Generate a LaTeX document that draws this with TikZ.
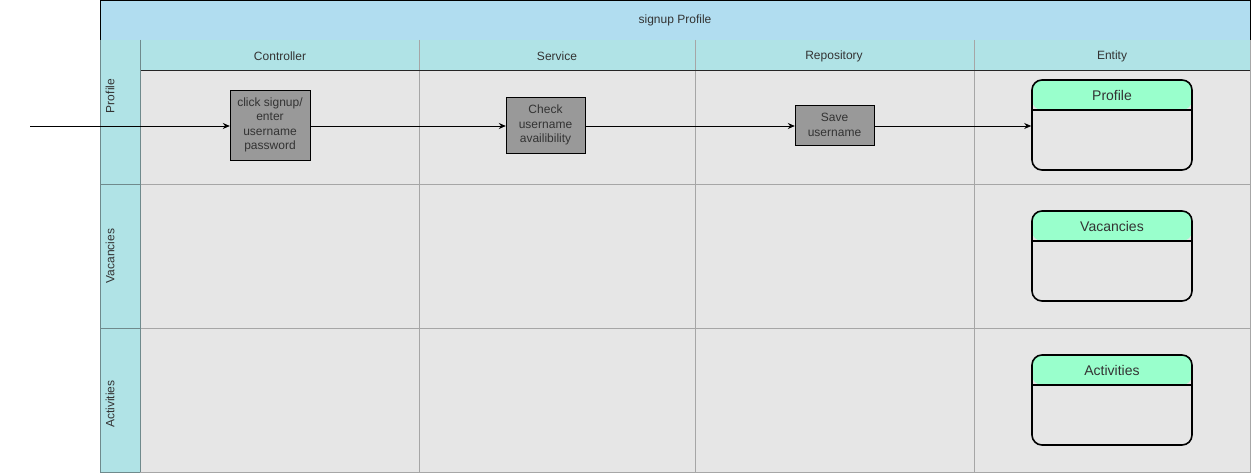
\documentclass[tikz,border=0pt]{standalone}
\usepackage{fontspec}
\setmainfont{Liberation Sans}
\usetikzlibrary{arrows.meta}
\definecolor{titleblue}{HTML}{B1DDF0}
\definecolor{lanecyan}{HTML}{B0E3E6}
\definecolor{cellgray}{HTML}{E6E6E6}
\definecolor{gridgray}{HTML}{A6A6A6}
\definecolor{laneedge}{HTML}{6F8A8C}
\definecolor{boxgray}{HTML}{999999}
\definecolor{entgreen}{HTML}{99FFCC}
\definecolor{txt}{HTML}{333333}
\tikzset{
  lbl/.style={text=txt, font=\fontsize{12}{14}\selectfont, inner sep=0},
  proc/.style={draw=black, fill=boxgray, text=txt, align=center, inner sep=2,
    font=\fontsize{12}{14.5}\selectfont},
  entbox/.style={draw=black, line width=1.6pt, rounded corners=10, minimum width=160,
    minimum height=90, inner sep=0,
    path picture={\fill[entgreen] (path picture bounding box.north west) rectangle
      ([yshift=-30pt]path picture bounding box.north east);
      \draw[line width=1.2pt] ([yshift=-30pt]path picture bounding box.north west) --
      ([yshift=-30pt]path picture bounding box.north east);}},
  flow/.style={-{Stealth[length=7pt,width=6pt]}, line width=0.8pt}
}
\begin{document}
\begin{tikzpicture}[x=1pt,y=-1pt]
    \useasboundingbox[fill=white] (0,0) rectangle (1251,473);
    % pool
    \fill[titleblue] (100,0) rectangle (1250,40);
    \draw[black] (100,0) rectangle (1250,40);
    \node[lbl] (pool) at (675,20) {signup Profile};
    % lanes
    \fill[lanecyan] (100,40) rectangle (140,472);
    \fill[lanecyan] (140,40) rectangle (1250,70);
    \fill[cellgray] (140,70) rectangle (1250,472);
    \foreach \x in {419,695,974}
        \draw[gridgray] (\x,40) -- (\x,472);
    \foreach \y in {184,328}
        \draw[gridgray] (140,\y) -- (1250,\y);
    \draw[gridgray] (1250,40) -- (1250,472) -- (140,472);
    \draw[black!85] (140,70) -- (1250,70);
    \draw[laneedge] (140,40) -- (140,472);
    \draw[laneedge] (100,40) -- (100,472) -- (140,472);
    \foreach \y in {184,328}
        \draw[laneedge] (100,\y) -- (140,\y);
    % headers
    \node[lbl] (ctrl) at (280,56) {Controller};
    \node[lbl] (serv) at (557,56) {Service};
    \node[lbl] (repo) at (834,56) {Repository};
    \node[lbl] (enty) at (1112,56) {Entity};
    \node[lbl, rotate=90] (rowProfile) at (110,96) {Profile};
    \node[lbl, rotate=90] (rowVacancies) at (110,256) {Vacancies};
    \node[lbl, rotate=90] (rowActivities) at (110,404) {Activities};
    % process
    \node[proc, minimum width=80, minimum height=70] (click) at (270,125)
        {click signup/\\enter\\username\\password};
    \node[proc, minimum width=79, minimum height=56] (check) at (545.5,125)
        {Check\\username\\availibility};
    \node[proc, minimum width=79, minimum height=40] (save) at (834.5,125)
        {Save\\username};
    % entities
    \foreach \name/\y in {Profile/125,Vacancies/256,Activities/400}{
        \node[entbox] (ent\name) at (1112,\y) {};
        \node[lbl, font=\fontsize{14}{16}\selectfont] (hd\name) at (1112,\y-30) {\name};
    }
    % flow
    \coordinate (start) at (30,126);
    \draw[flow] (start) -- (click.west |- start);
    \draw[flow] (click.east |- start) -- (check.west |- start);
    \draw[flow] (check.east |- start) -- (save.west |- start);
    \draw[flow] (save.east |- start) -- (entProfile.west |- start);
\end{tikzpicture}
\end{document}
